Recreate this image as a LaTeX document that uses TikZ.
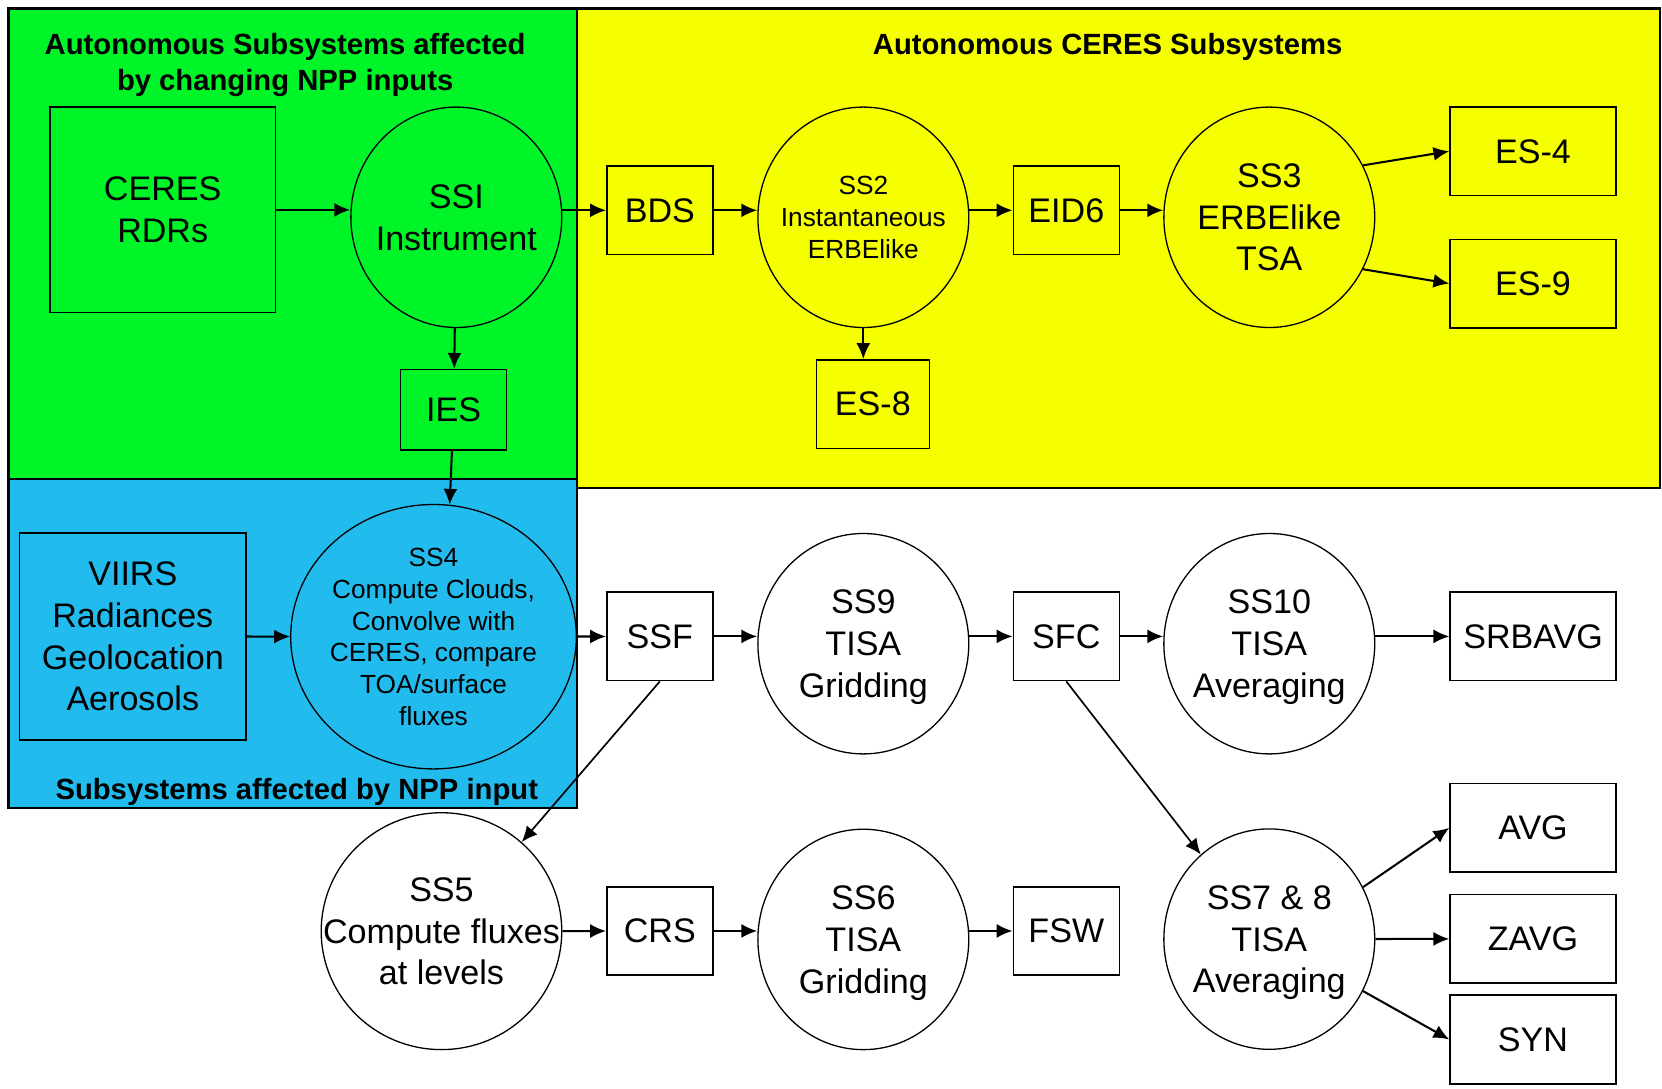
\documentclass[tikz,border=0pt]{standalone}
\usepackage{fontspec}
\setmainfont{Liberation Sans}
\usepackage{tikz}
\usetikzlibrary{arrows,arrows.meta,positioning,shapes.geometric}
\definecolor{nppgreen}{RGB}{0,245,40}
\definecolor{ceresyellow}{RGB}{245,255,0}
\definecolor{viirsblue}{RGB}{34,187,238}
\newcommand{\bigtxt}{\fontsize{18.3}{22.4}\selectfont}
\newcommand{\smalltxt}{\fontsize{14.1}{17}\selectfont}
\newcommand{\titletxt}{\fontsize{15.7}{19.3}\selectfont\bfseries}
\tikzstyle{region} = [draw,line width=1.1pt]
\tikzstyle{heading} = [align=center,inner sep=0pt,text depth=0pt,font=\titletxt]
\tikzstyle{store} = [draw,line width=0.85pt,minimum width=2cm,minimum height=1.67cm,inner sep=0pt,align=center,text depth=0pt,font=\bigtxt]
\tikzstyle{product} = [store,minimum width=3.13cm]
\tikzstyle{subsys} = [draw,ellipse,line width=0.7pt,minimum width=3.98cm,minimum height=4.16cm,inner sep=-1cm,align=center,text depth=0pt,font=\bigtxt]
\tikzstyle{flow} = [->,line width=1.1pt,arrows={-Latex[length=8.5pt,width=7.5pt]}]
\tikzstyle{link} = [->,line width=0.9pt,arrows={-Latex[length=8.5pt,width=7.5pt]}]

\begin{document}
\begin{tikzpicture}[x=0.02cm,y=-0.02cm]
                  \useasboundingbox (0,0) rectangle (1568,1027);
                  % coloured areas
                  \draw[region,fill=ceresyellow] (544,8) rectangle (1566,460);
                  \draw[region,fill=nppgreen] (8,8) rectangle (544,452);
                  \draw[region,fill=viirsblue] (8,452) rectangle (544,762);
                  \node (hnpp)[heading] at (269,58) {Autonomous Subsystems affected\\by changing NPP inputs};
                  \node (hceres)[heading] at (1045,41) {Autonomous CERES Subsystems};
                  \node (hviirs)[heading] at (280,744) {Subsystems affected by NPP input};

                  % top row
                  \node (ceres)[store,minimum width=4.26cm,minimum height=3.88cm] at (153.5,198) {CERES\\RDRs};
                  \node (ssi)[subsys] at (430.5,205) {SSI\\Instrument};
                  \node (ies)[store,minimum height=1.52cm] at (428,386.7) {IES};
                  \node (bds)[store] at (622.5,198.4) {BDS};
                  \node (ss2)[subsys,font=\smalltxt] at (814.5,205) {SS2\\Instantaneous\\ERBElike};
                  \node (es8)[store,minimum width=2.13cm] at (823.5,381.2) {ES-8};
                  \node (eid6)[store] at (1006,198.4) {EID6};
                  \node (ss3)[subsys] at (1197.5,205) {SS3\\ERBElike\\TSA};
                  \node (es4)[product] at (1446.3,142.7) {ES-4};
                  \node (es9)[product] at (1446.3,267.5) {ES-9};

                  % middle row
                  \node (viirs)[store,minimum width=4.27cm,minimum height=3.9cm] at (125.3,600.4) {VIIRS\\Radiances\\Geolocation\\Aerosols};
                  \node (ss4)[subsys,font=\smalltxt,minimum width=5.39cm,minimum height=4.99cm] at (409,600.7) {SS4\\Compute Clouds,\\Convolve with\\CERES, compare\\TOA/surface\\fluxes};
                  \node (ssf)[store] at (622.5,600.4) {SSF};
                  \node (ss9)[subsys] at (814.5,607.3) {SS9\\TISA\\Gridding};
                  \node (sfc)[store] at (1006,600.4) {SFC};
                  \node (ss10)[subsys] at (1197.5,607.3) {SS10\\TISA\\Averaging};
                  \node (srbavg)[product] at (1446.3,600.4) {SRBAVG};

                  % bottom row
                  \node (ss5)[subsys,minimum width=4.54cm,minimum height=4.47cm] at (416.5,878.5) {SS5\\Compute fluxes\\at levels};
                  \node (crs)[store] at (622.5,878.3) {CRS};
                  \node (ss6)[subsys] at (814.5,886.3) {SS6\\TISA\\Gridding};
                  \node (fsw)[store] at (1006,878.3) {FSW};
                  \node (ss78)[subsys] at (1197.5,886) {SS7 \& 8\\TISA\\Averaging};
                  \node (avg)[product] at (1446.3,781) {AVG};
                  \node (zavg)[product] at (1446.3,885.7) {ZAVG};
                  \node (syn)[product] at (1446.3,980.7) {SYN};

                  \draw[flow] (ceres) -- (ceres -| ssi.west);
                  \draw[flow] (ssi.east |- bds) -- (bds);
                  \draw[flow] (ssi) -- (ies);
                  \draw[flow] (ies) -- (ss4.83);
                  \draw[flow] (bds) -- (bds -| ss2.west);
                  \draw[flow] (ss2.south) -- (ss2.south |- es8.north);
                  \draw[flow] (ss2.east |- eid6) -- (eid6);
                  \draw[flow] (eid6) -- (eid6 -| ss3.west);
                  \draw[flow] (ss3.29) -- (es4.west);
                  \draw[flow] (ss3.-29) -- (es9.west);
                  \draw[flow] (viirs) -- (ss4);
                  \draw[flow] (ss4) -- (ssf);
                  \draw[flow] (ssf) -- (ssf -| ss9.west);
                  \draw[flow] (ss9.east |- sfc) -- (sfc);
                  \draw[flow] (sfc) -- (sfc -| ss10.west);
                  \draw[flow] (ss10.east |- srbavg) -- (srbavg);
                  \draw[link] (ssf.south) -- (ss5.48);
                  \draw[link] (sfc.south) -- (ss78.129);
                  \draw[flow] (ss5) -- (crs);
                  \draw[flow] (crs) -- (crs -| ss6.west);
                  \draw[flow] (ss6.east |- fsw) -- (fsw);
                  \draw[flow] (ss78.29) -- (avg.west);
                  \draw[flow] (ss78) -- (zavg);
                  \draw[flow] (ss78.-29) -- (syn.west);
            \end{tikzpicture}
\end{document}
